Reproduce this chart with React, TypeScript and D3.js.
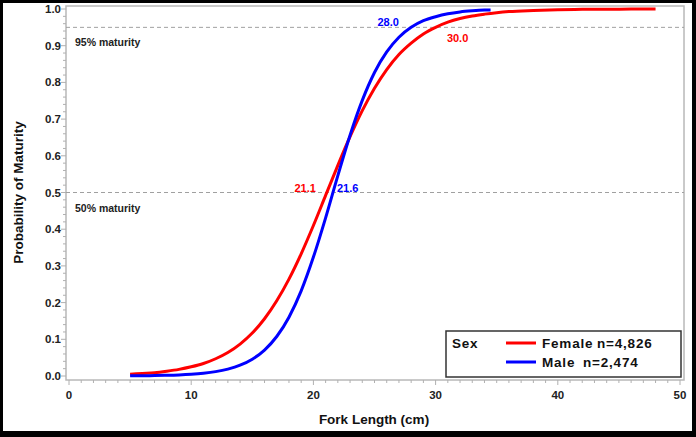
import React from "react";
import * as d3 from "d3";

const femaleLength = [5, 6, 7, 8, 9, 10, 11, 12, 13, 14, 15, 16, 17, 18, 19, 20, 21, 22, 23, 24, 25, 26, 27, 28, 29, 30, 31, 32, 33, 34, 35, 36, 38, 40, 42, 44, 46, 48];
const femaleProb = [0.005, 0.007, 0.009, 0.013, 0.018, 0.025, 0.034, 0.047, 0.064, 0.087, 0.117, 0.156, 0.205, 0.264, 0.333, 0.41, 0.492, 0.574, 0.652, 0.723, 0.784, 0.835, 0.876, 0.907, 0.932, 0.95, 0.964, 0.974, 0.981, 0.986, 0.99, 0.993, 0.996, 0.998, 0.999, 0.9995, 0.9997, 0.9999];
const maleLength = [5, 6, 7, 8, 9, 10, 11, 12, 13, 14, 15, 16, 17, 18, 19, 20, 21, 22, 23, 24, 25, 26, 27, 28, 29, 30, 31, 32, 33, 34, 34.5];
const maleProb = [0.0005, 0.0008, 0.0012, 0.0019, 0.003, 0.0048, 0.0076, 0.0119, 0.0188, 0.0294, 0.0458, 0.0707, 0.1076, 0.1603, 0.232, 0.324, 0.431, 0.546, 0.656, 0.751, 0.827, 0.883, 0.923, 0.95, 0.968, 0.979, 0.987, 0.992, 0.995, 0.997, 0.9973];

const xTicks = [0, 10, 20, 30, 40, 50];
const yTicks = [0, 0.1, 0.2, 0.3, 0.4, 0.5, 0.6, 0.7, 0.8, 0.9, 1.0];
const refLines = [
  { p: 0.95, label: "95% maturity" },
  { p: 0.5, label: "50% maturity" },
];
const annotations = [
  { x: 21.1, p: 0.5, text: "21.1", color: "#ff0000", anchor: "end", dx: -11, dy: -1 },
  { x: 21.6, p: 0.5, text: "21.6", color: "#0000ff", anchor: "start", dx: 4, dy: -1 },
  { x: 28.0, p: 0.95, text: "28.0", color: "#0000ff", anchor: "middle", dx: -23, dy: -1 },
  { x: 30.0, p: 0.95, text: "30.0", color: "#ff0000", anchor: "middle", dx: 22, dy: 15 },
];
const legendItems = [
  { name: "Female", n: "n=4,826", color: "#ff0000" },
  { name: "Male", n: "n=2,474", color: "#0000ff" },
];

const W = 696;
const H = 437;
const FONT = "'Liberation Sans', Arial, sans-serif";

export default function App() {
  const x = d3.scaleLinear().domain([0, 50]).range([69, 680]);
  const y = d3.scaleLinear().domain([0, 1]).range([376, 9]);
  const frame = { left: 66, right: 684, top: 6, bottom: 380 };

  const line = d3
    .line<[number, number]>()
    .x((d) => x(d[0]))
    .y((d) => y(d[1]))
    .curve(d3.curveMonotoneX);

  const female = femaleLength.map((l, i) => [l, femaleProb[i]] as [number, number]);
  const male = maleLength.map((l, i) => [l, maleProb[i]] as [number, number]);

  const xMinor = d3.range(0, 51, 1);
  const yMinor = d3.range(0, 1.0001, 0.02);

  return (
    <svg
      width={W}
      height={H}
      style={{ position: "absolute", left: 0, top: 0, display: "block" }}
      fontFamily={FONT}
    >
      <rect x={0} y={0} width={W} height={H} fill="#000" />
      <rect x={3} y={3} width={689} height={428} fill="#fff" />

      {/* plot frame */}
      <rect
        x={frame.left}
        y={frame.top}
        width={frame.right - frame.left}
        height={frame.bottom - frame.top}
        fill="none"
        stroke="#b8b8b8"
        strokeWidth={1.5}
      />

      {/* reference lines */}
      {refLines.map((r) => (
        <g key={r.label}>
          <line
            x1={frame.left}
            x2={frame.right}
            y1={y(r.p)}
            y2={y(r.p)}
            stroke="#a0a0a0"
            strokeWidth={1}
            strokeDasharray="4,3"
          />
          <text x={75} y={y(r.p) + 19} fontSize={10.5} fill="#222" fontWeight="bold">
            {r.label}
          </text>
        </g>
      ))}

      {/* x axis ticks */}
      {xMinor.map((v) => (
        <line
          key={"xm" + v}
          x1={x(v)}
          x2={x(v)}
          y1={frame.bottom}
          y2={frame.bottom + (v % 10 === 0 ? 5 : 3)}
          stroke="#b0b0b0"
          strokeWidth={1}
        />
      ))}
      {xTicks.map((v) => (
        <text
          key={"xt" + v}
          x={x(v)}
          y={399}
          textAnchor="middle"
          fontSize={11.5}
          fontWeight="bold"
          fill="#222"
        >
          {v}
        </text>
      ))}
      <text x={374} y={424} textAnchor="middle" fontSize={13.5} fontWeight="bold" fill="#111">
        Fork Length (cm)
      </text>

      {/* y axis ticks */}
      {yMinor.map((v, i) => (
        <line
          key={"ym" + i}
          x1={frame.left}
          x2={frame.left - (i % 5 === 0 ? 5 : 3)}
          y1={y(v)}
          y2={y(v)}
          stroke="#b0b0b0"
          strokeWidth={1}
        />
      ))}
      {yTicks.map((v) => (
        <text
          key={"yt" + v}
          x={61}
          y={y(v) + 4}
          textAnchor="end"
          fontSize={11.5}
          fontWeight="bold"
          fill="#222"
        >
          {v.toFixed(1)}
        </text>
      ))}
      <text
        transform={`translate(23,${y(0.5)}) rotate(-90)`}
        textAnchor="middle"
        fontSize={13.5}
        fontWeight="bold"
        fill="#111"
      >
        Probability of Maturity
      </text>

      {/* curves */}
      <path d={line(female) || ""} fill="none" stroke="#ff0000" strokeWidth={3} />
      <path d={line(male) || ""} fill="none" stroke="#0000ff" strokeWidth={3} />

      {/* annotations */}
      {annotations.map((a) => (
        <text
          key={a.text}
          x={x(a.x) + a.dx}
          y={y(a.p) + a.dy}
          textAnchor={a.anchor as any}
          fontSize={11}
          fontWeight="bold"
          fill={a.color}
        >
          {a.text}
        </text>
      ))}

      {/* legend */}
      <rect x={446} y={331} width={235} height={46} fill="#fff" stroke="#333" strokeWidth={1.5} />
      <text x={452} y={348} fontSize={13.5} fontWeight="bold" fill="#111" letterSpacing={0.8}>
        Sex
      </text>
      {legendItems.map((it, i) => (
        <g key={it.name}>
          <line x1={506} x2={536} y1={343 + i * 19} y2={343 + i * 19} stroke={it.color} strokeWidth={3} />
          <text x={542} y={348 + i * 19} fontSize={13.5} fontWeight="bold" fill="#111" letterSpacing={0.8}>
            {it.name}
          </text>
          <text x={i === 0 ? 597 : 583} y={348 + i * 19} fontSize={13.5} fontWeight="bold" fill="#111" letterSpacing={0.8}>
            {it.n}
          </text>
        </g>
      ))}
    </svg>
  );
}
